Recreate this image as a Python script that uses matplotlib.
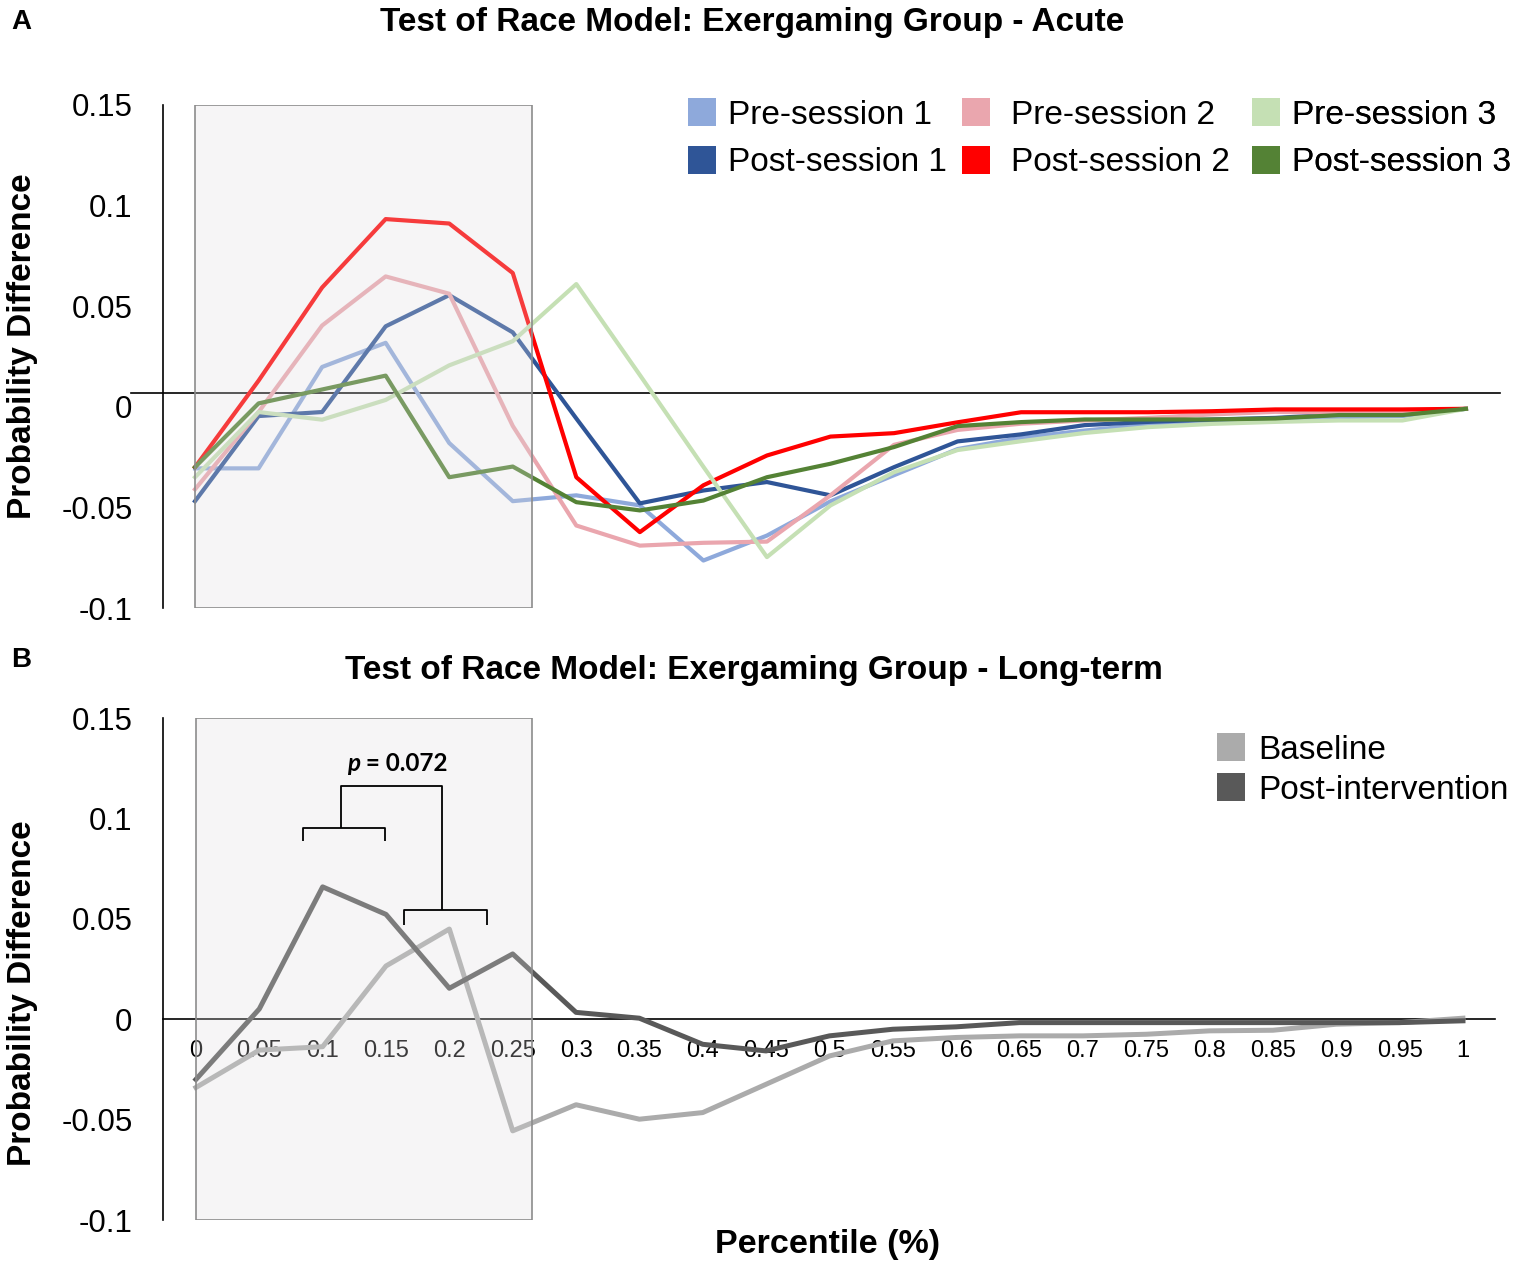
import matplotlib
matplotlib.use("Agg")
import matplotlib.pyplot as plt
from matplotlib.patches import Rectangle, Patch
import matplotlib.transforms as mtransforms

plt.rcParams['font.family'] = ['Liberation Sans', 'DejaVu Sans']

# ---------------- data ----------------
percentiles = [0, 0.05, 0.1, 0.15, 0.2, 0.25, 0.3, 0.35, 0.4, 0.45, 0.5,
               0.55, 0.6, 0.65, 0.7, 0.75, 0.8, 0.85, 0.9, 0.95, 1]
tick_labels = ["0", "0.05", "0.1", "0.15", "0.2", "0.25", "0.3", "0.35", "0.4", "0.45", "0.5",
               "0.55", "0.6", "0.65", "0.7", "0.75", "0.8", "0.85", "0.9", "0.95", "1"]

pre_session_1 = [-0.0306, -0.0306, 0.0198, 0.0318, -0.018, -0.0469, -0.044, -0.049, -0.0764, -0.064,
                 -0.047, -0.034, -0.021, -0.0154, -0.0118, -0.0088, -0.0071, -0.0063, -0.0051, -0.0046, -0.001]
post_session_1 = [-0.0469, -0.0046, -0.0026, 0.040, 0.0555, 0.037, -0.0058, -0.048, -0.0416, -0.0374,
                  -0.044, -0.030, -0.0172, -0.0137, -0.0091, -0.0075, -0.0063, -0.0055, -0.0038, -0.0035, -0.001]
pre_session_2 = [-0.041, -0.0026, 0.0404, 0.0648, 0.0562, -0.0095, -0.059, -0.069, -0.0676, -0.067,
                 -0.044, -0.0189, -0.0115, -0.0084, -0.0068, -0.0055, -0.0038, -0.0025, -0.003, -0.0022, -0.001]
post_session_2 = [-0.030, 0.013, 0.0593, 0.0933, 0.0911, 0.0665, -0.035, -0.0623, -0.039, -0.0242,
                  -0.0148, -0.0131, -0.0077, -0.0027, -0.0027, -0.0027, -0.0022, -0.0013, -0.0013, -0.0013, -0.001]
pre_session_3 = [-0.035, -0.0026, -0.0064, 0.0034, 0.0206, 0.0326, 0.0610, 0.0158, -0.0298, -0.0747,
                 -0.049, -0.0325, -0.0215, -0.0171, -0.013, -0.0101, -0.0085, -0.0075, -0.0068, -0.0068, -0.001]
post_session_3 = [-0.030, 0.0017, 0.0086, 0.0155, -0.035, -0.0297, -0.0474, -0.0515, -0.0466, -0.035,
                  -0.0283, -0.020, -0.0096, -0.0076, -0.0063, -0.0063, -0.0063, -0.0058, -0.0041, -0.0041, -0.001]

baseline = [-0.034, -0.0154, -0.0137, 0.0265, 0.0449, -0.0556, -0.0426, -0.0498, -0.0465, -0.0324,
            -0.0183, -0.0108, -0.0091, -0.0083, -0.0083, -0.0075, -0.0058, -0.0055, -0.0025, -0.0017, 0.0005]
post_intervention = [-0.030, 0.0051, 0.0659, 0.0522, 0.0154, 0.0325, 0.0034, 0.0005, -0.0125, -0.0158,
                     -0.0083, -0.005, -0.0038, -0.0017, -0.0017, -0.0017, -0.0017, -0.0017, -0.0017, -0.0017, -0.0008]

acute_series = [("Pre-session 1", pre_session_1, "#8EA9DB"),
                ("Post-session 1", post_session_1, "#2F5597"),
                ("Pre-session 2", pre_session_2, "#EAA6AE"),
                ("Post-session 2", post_session_2, "#FF0000"),
                ("Pre-session 3", pre_session_3, "#C5E0B4"),
                ("Post-session 3", post_session_3, "#548235")]
long_series = [("Baseline", baseline, "#ABABAB"),
               ("Post-intervention", post_intervention, "#595959")]

y_ticks = [0.15, 0.1, 0.05, 0, -0.05, -0.1]
y_tick_labels = ["0.15", "0.1", "0.05", "0", "-0.05", "-0.1"]
window = (0.0, 0.265)

# ---------------- figure ----------------
W, H = 1536, 1272
fig = plt.figure(figsize=(W / 100, H / 100), dpi=100)

def px_axes(l, t, r, b):
    return fig.add_axes([l / W, 1 - b / H, (r - l) / W, (b - t) / H])

axA = px_axes(163, 105, 1500, 608)
axB = px_axes(163, 718, 1495, 1220)

def style(ax, xlim, label_y):
    ax.set_xlim(*xlim)
    ax.set_ylim(-0.1, 0.15)
    for s in ['top', 'right']:
        ax.spines[s].set_visible(False)
    ax.spines['left'].set_color('black')
    ax.spines['left'].set_linewidth(1.2)
    ax.set_yticks(y_ticks)
    ax.set_yticklabels(y_tick_labels)
    ax.tick_params(axis='y', length=0, pad=22, labelsize=22.5)
    ax.set_ylabel("Probability Difference", fontsize=24, fontweight='bold', va='center')
    bbox = ax.get_position()
    ax.yaxis.set_label_coords((23 / W - bbox.x0) / bbox.width, label_y)
    ax.patch.set_alpha(0)

def shade(ax):
    trans = mtransforms.blended_transform_factory(ax.transData, ax.transAxes)
    ax.add_patch(Rectangle((window[0], 0), window[1] - window[0], 1, transform=trans,
                           facecolor='#DEDCDE', alpha=0.27, edgecolor='none', zorder=5))
    ax.add_patch(Rectangle((window[0], 0), window[1] - window[0], 1, transform=trans,
                           facecolor='none', edgecolor='#8C8C8C', linewidth=1.2, zorder=6))

leg_kw = dict(loc='upper left', bbox_transform=fig.transFigure, frameon=False, fontsize=24,
              borderpad=0, borderaxespad=0, handlelength=0.84, handleheight=0.93)

# ---- Panel A ----
style(axA, (-0.0252, 1.0268), (608 - 346) / (608 - 105))
axA.spines['bottom'].set_visible(False)
axA.set_xticks([])
for name, vals, col in acute_series:
    axA.plot(percentiles, vals, color=col, lw=3.0, zorder=3)
axA.plot([-0.05, 1.0268], [0.0067, 0.0067], color='black', lw=1.2, zorder=2, clip_on=False)
shade(axA)
col_x = [688, 962, 1252]
col_pad = [0.36, 0.62, 0.36]
for k in range(3):
    hs = [Patch(facecolor=c, edgecolor='none', label=n) for n, v, c in acute_series[2 * k:2 * k + 2]]
    lg = axA.legend(handles=hs, bbox_to_anchor=(col_x[k] / W, 1 - 98 / H), handletextpad=col_pad[k],
                    labelspacing=0.45, **leg_kw)
    axA.add_artist(lg)

# ---- Panel B ----
style(axB, (-0.026, 1.0253), (1220 - 993) / (1220 - 718))
axB.spines['bottom'].set_position(('data', 0))
axB.spines['bottom'].set_linewidth(1.2)
axB.set_xticks(percentiles)
axB.set_xticklabels(tick_labels)
axB.tick_params(axis='x', length=0, pad=15, labelsize=17)
for name, vals, col in long_series:
    axB.plot(percentiles, vals, color=col, lw=3.6, zorder=3)
shade(axB)
hB = [Patch(facecolor=c, edgecolor='none', label=n) for n, v, c in long_series]
axB.legend(handles=hB, bbox_to_anchor=(1217 / W, 1 - 733 / H), handletextpad=0.4,
           labelspacing=0.22, **leg_kw)

# significance brackets
bk = dict(color='black', lw=1.3, zorder=7, solid_capstyle='butt')
axB.plot([0.0843, 0.0843, 0.149, 0.149], [0.0885, 0.0954, 0.0954, 0.0885], **bk)
axB.plot([0.164, 0.164, 0.2295, 0.2295], [0.047, 0.0545, 0.0545, 0.047], **bk)
axB.plot([0.1145, 0.1145, 0.194, 0.194], [0.0954, 0.116, 0.116, 0.0545], **bk)
axB.text(0.1295, 0.1275, "p", fontsize=17.5, fontweight='bold', fontstyle='italic',
         family=['Lato', 'DejaVu Sans'], ha='right', va='center', zorder=8)
axB.text(0.1295, 0.1275, " = 0.072", fontsize=17.5, fontweight='bold',
         family=['Lato', 'DejaVu Sans'], ha='left', va='center', zorder=8)

# titles, x label and panel letters
fig.text(752 / W, 1 - 22 / H, "Test of Race Model: Exergaming Group - Acute",
         fontsize=24, fontweight='bold', ha='center', va='center')
fig.text(754 / W, 1 - 670 / H, "Test of Race Model: Exergaming Group - Long-term",
         fontsize=24, fontweight='bold', ha='center', va='center')
fig.text(828 / W, 1 - 1245 / H, "Percentile (%)", fontsize=24.5, fontweight='bold', ha='center', va='center')
fig.text(21 / W, 1 - 22 / H, "A", fontsize=20, fontweight='bold', ha='center', va='center')
fig.text(21 / W, 1 - 660 / H, "B", fontsize=20, fontweight='bold', ha='center', va='center')

fig.savefig("out.png", dpi=100, facecolor='white')
